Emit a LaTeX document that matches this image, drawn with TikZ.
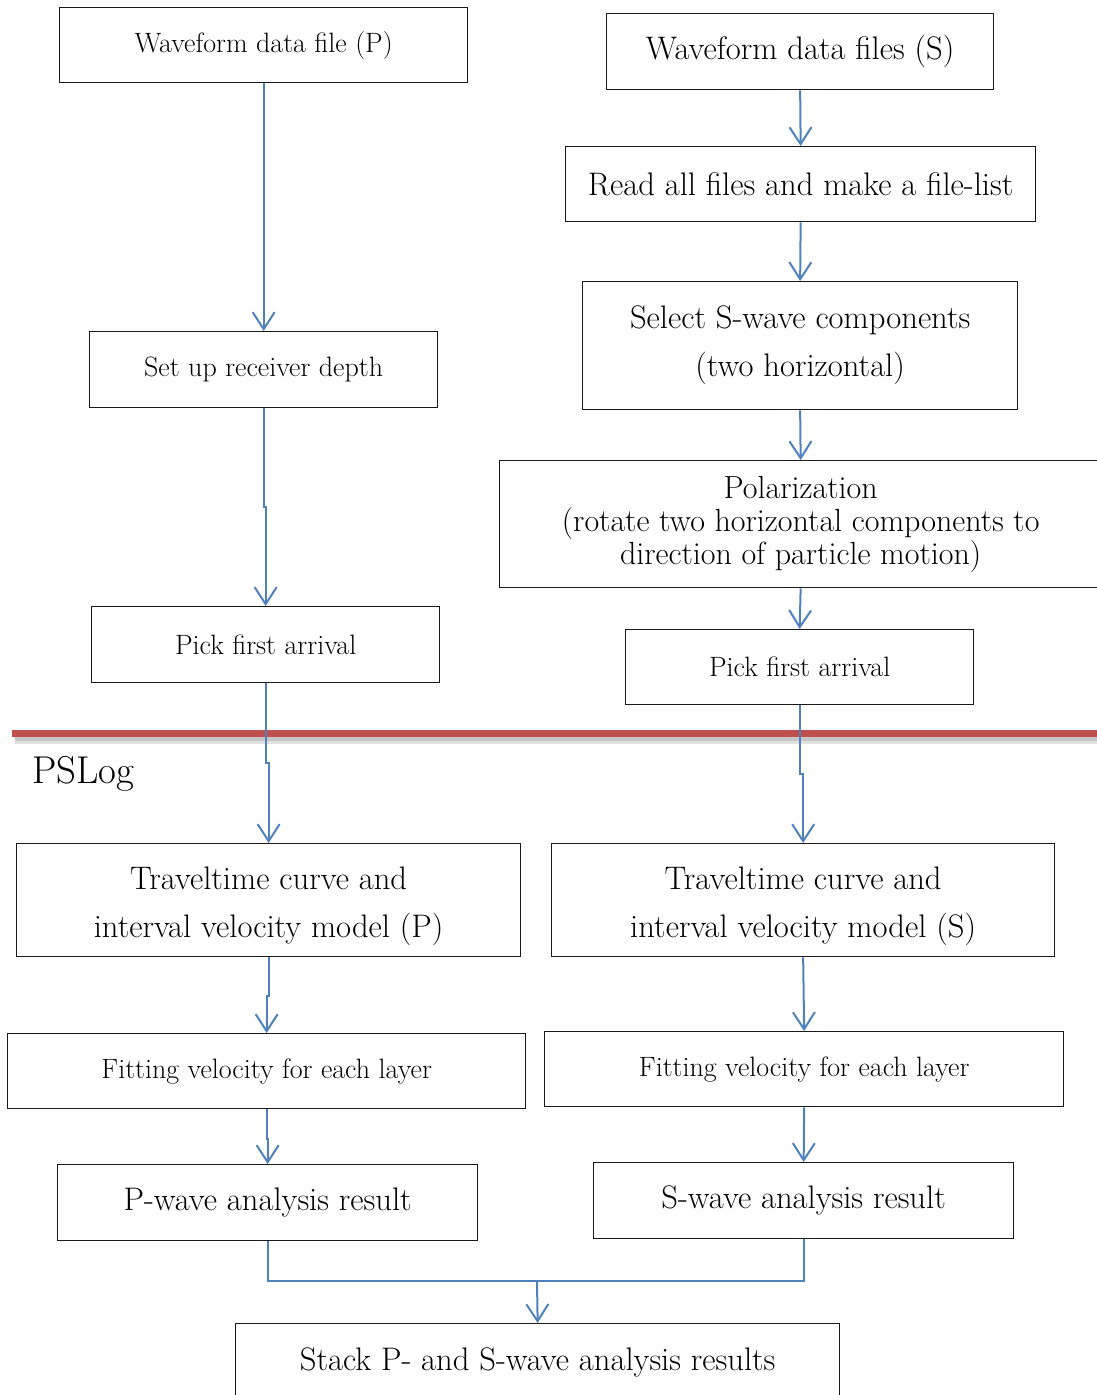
\documentclass[tikz,border=0pt]{standalone}
\usetikzlibrary{arrows.meta}
\definecolor{arrblue}{RGB}{79,129,189}
\definecolor{redline}{RGB}{192,80,77}
\newcommand{\fsA}{\fontsize{28}{33}\selectfont}
\newcommand{\fsB}{\fontsize{32.6}{48}\selectfont}
\newcommand{\fsC}{\fontsize{32}{33}\selectfont}
\newcommand{\lift}{\rule{0pt}{35pt}}
\begin{document}
\begin{tikzpicture}[x=1pt,y=-1pt,
  box/.style={draw=black!90, line width=1.3pt, anchor=north west, inner sep=0pt, align=center},
  arr/.style={draw=arrblue, line width=2pt, -{Straight Barb[length=17pt,width=22pt]}},
  conn/.style={draw=arrblue, line width=2pt}]
\clip (0,0) rectangle (1097,1395);
\useasboundingbox (0,0) rectangle (1097,1395);
% left column
\node[box, minimum width=408, minimum height=75, font=\fsA] (p1) at (59,7) {Waveform data file (P)};
\node[box, minimum width=348, minimum height=76, font=\fsA] (p2) at (89,331) {Set up receiver depth};
\node[box, minimum width=348, minimum height=76, font=\fsA] (p3) at (91,606) {Pick first arrival};
\node[box, minimum width=504, minimum height=113, font=\fsB] (p4) at (16,843) {\lift Traveltime curve and\\interval velocity model (P)};
\node[box, minimum width=518, minimum height=75, font=\fsA] (p5) at (7,1033) {Fitting velocity for each layer};
\node[box, minimum width=420, minimum height=76, font=\fsB] (p6) at (57,1164) {P-wave analysis result};
% right column
\node[box, minimum width=387, minimum height=76, font=\fsB] (s1) at (606,13) {Waveform data files (S)};
\node[box, minimum width=470, minimum height=75, font=\fsB] (s2) at (565,146) {Read all files and make a file-list};
\node[box, minimum width=435, minimum height=128, font=\fsB] (s3) at (582,281) {Select S-wave components\\(two horizontal)};
\node[box, minimum width=602, minimum height=127, font=\fsC] (s4) at (499,460) {Polarization\\(rotate two horizontal components to\\direction of particle motion)};
\node[box, minimum width=348, minimum height=75, font=\fsA] (s5) at (625,629) {Pick first arrival};
\node[box, minimum width=503, minimum height=113, font=\fsB] (s6) at (551,843) {\lift Traveltime curve and\\interval velocity model (S)};
\node[box, minimum width=519, minimum height=75, font=\fsA] (s7) at (544,1031) {Fitting velocity for each layer};
\node[box, minimum width=420, minimum height=76, font=\fsB] (s8) at (593,1162) {S-wave analysis result};
% final
\node[box, minimum width=604, minimum height=77, font=\fsB] (fin) at (235,1323) {Stack P- and S-wave analysis results};
% red separator with shadow
\draw[line width=6pt, black!22] (15,738) -- (1097,738);
\draw[line width=3pt, black!12] (15,742) -- (1097,742);
\draw[line width=7pt, redline] (12,733) -- (1097,733);
\node[anchor=base west, inner sep=0pt, font=\fontsize{38.8}{44}\selectfont] (pslog) at (32,783) {PSLog};
% left connectors
\draw[arr] (p1.south) -- ++(0,126) -| (p2.north);
\draw[arr] (p2.south) -- ++(0,99) -| (p3.north);
\draw[arr] (p3.south) -- ++(0,80) -| (p4.north);
\draw[arr] (p4.south) -- ++(0,39) -| (p5.north);
\draw[arr] (p5.south) -- ++(0,30) -| (p6.north);
% right connectors
\draw[arr] (s1.south) -- (s2.north);
\draw[arr] (s2.south) -- (s3.north);
\draw[arr] (s3.south) -- (s4.north);
\draw[arr] (s4.south) -- (s5.north);
\draw[arr] (s5.south) -- ++(0,69) -| (s6.north);
\draw[arr] (s6.south) -- (s7.north);
\draw[arr] (s7.south) -- (s8.north);
% merge
\coordinate (m) at (537,1281);
\draw[conn] (p6.south) |- (m);
\draw[conn] (s8.south) |- (m);
\draw[arr] (m) -- (fin.north);
\end{tikzpicture}
\end{document}
